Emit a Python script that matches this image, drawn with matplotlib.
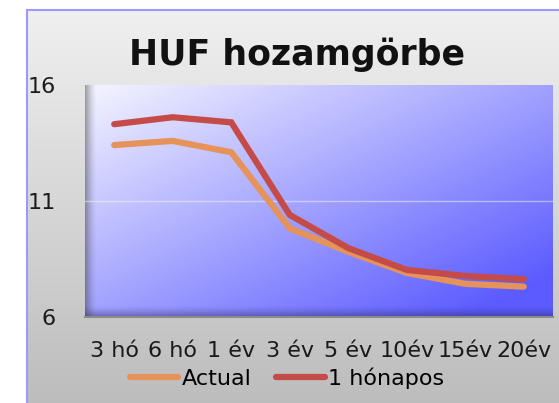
import matplotlib.pyplot as plt
import numpy as np

# Data
categories = ["3 hó", "6 hó", "1 év", "3 év", "5 év", "10év", "15év", "20év"]
actual = [13.41, 13.59, 13.10, 9.82, 8.81, 7.90, 7.43, 7.31]
one_month = [14.31, 14.61, 14.39, 10.40, 8.97, 8.03, 7.77, 7.63]
y_ticks = [6, 11, 16]

W, H = 559, 403
fig = plt.figure(figsize=(W / 100, H / 100), dpi=100, facecolor="white")

# Chart area background: vertical gray gradient with a lavender border
bg = fig.add_axes([27 / W, 0, 1 - 27 / W, (H - 10) / H])
grad = np.linspace(0.94, 0.74, 256).reshape(-1, 1)
bg.imshow(np.dstack([grad, grad, grad]), aspect="auto", extent=[0, 1, 0, 1])
bg.set_xticks([])
bg.set_yticks([])
for side in ["right", "bottom"]:
    bg.spines[side].set_visible(False)
for side in ["left", "top"]:
    bg.spines[side].set_color("#9a9aff")
    bg.spines[side].set_linewidth(1.5)

# Plot area
ax = fig.add_axes([85 / W, (H - 317) / H, (553 - 85) / W, (317 - 85) / H])

# diagonal blue gradient, light top-left to saturated bottom-right
gx, gy = np.meshgrid(np.linspace(0, 1, 200), np.linspace(0, 1, 200))
t = np.clip(0.55 * gx + 0.55 * gy, 0, 1)
top = np.array([0.96, 0.96, 1.0])
bot = np.array([0.36, 0.36, 1.0])
img = top[None, None, :] * (1 - t[..., None]) + bot[None, None, :] * t[..., None]
ax.imshow(img, aspect="auto", extent=[-0.5, 7.5, 6, 16], zorder=0)

# left and bottom shadows
n = 50
sh = np.zeros((1, n, 4))
sh[..., 0:3] = 0.2
sh[0, :, 3] = np.linspace(0.6, 0, n) ** 1.5
ax.imshow(sh, aspect="auto", extent=[-0.5, -0.5 + 12 / 58.5, 6, 16], zorder=1)
shb = np.zeros((n, 1, 4))
shb[..., 0] = 0.15
shb[..., 1] = 0.15
shb[..., 2] = 0.35
shb[:, 0, 3] = np.linspace(0, 0.6, n) ** 1.5
ax.imshow(shb, aspect="auto", extent=[-0.5, 7.5, 6, 6 + 12 / 23.2], zorder=1)

ax.axhline(11, color="white", alpha=0.45, lw=1, zorder=2)

x = np.arange(len(categories))
ax.plot(x, actual, color="#E6935A", lw=4.5, solid_capstyle="round",
        solid_joinstyle="miter", label="Actual", zorder=3)
ax.plot(x, one_month, color="#C44B48", lw=4.5, solid_capstyle="round",
        solid_joinstyle="miter", label="1 hónapos", zorder=3)

ax.set_xlim(-0.5, len(categories) - 0.5)
ax.set_ylim(6, 16)
ax.set_xticks(x)
ax.set_xticklabels(categories, fontsize=16, color="#1a1a1a")
ax.set_yticks(y_ticks)
ax.set_yticklabels([str(v) for v in y_ticks], fontsize=16, color="#1a1a1a")
ax.tick_params(axis="x", length=0, pad=17)
ax.tick_params(axis="y", length=0, pad=21)
for s in ax.spines.values():
    s.set_visible(False)
ax.spines["bottom"].set_visible(True)
ax.spines["bottom"].set_color("#8a8a8a")
ax.spines["bottom"].set_linewidth(1.5)

fig.text(297 / W, 1 - 55 / H, "HUF hozamgörbe", fontsize=25, fontweight="bold",
         ha="center", va="center", color="#111111")

fig.legend(loc="center", bbox_to_anchor=(287 / W, 1 - 378 / H), ncol=2,
           frameon=False, fontsize=16, handlelength=2.2, handletextpad=0.15,
           columnspacing=1.1)

fig.savefig("out.png", dpi=100, facecolor="white")
